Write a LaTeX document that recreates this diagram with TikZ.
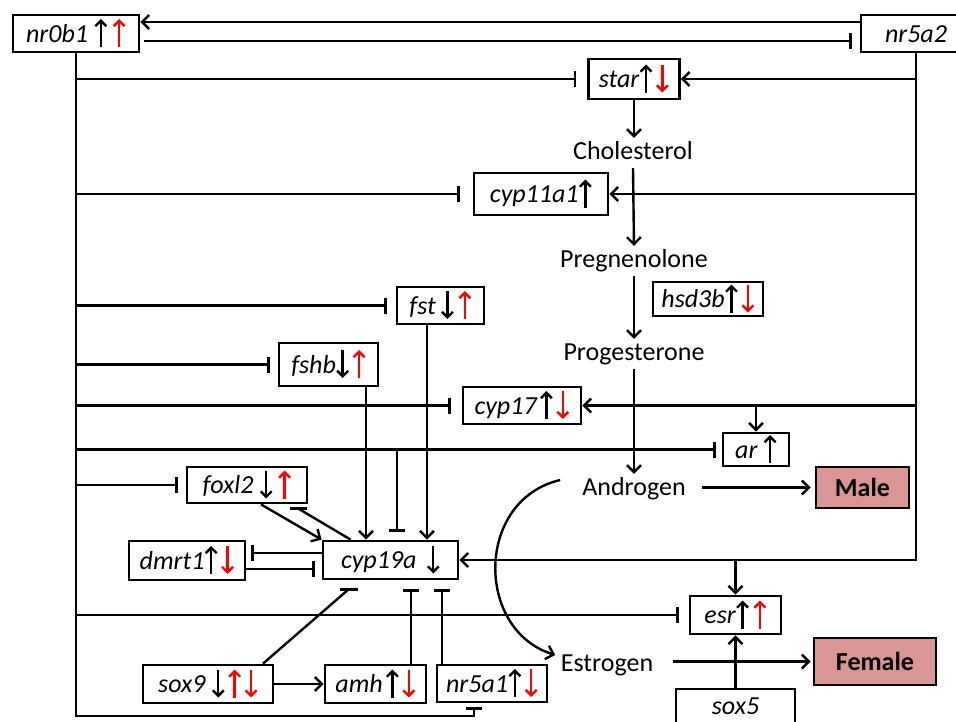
\documentclass[tikz,border=0pt]{standalone}
\usepackage{fontspec}
\setmainfont{Carlito}
\usetikzlibrary{arrows.meta,calc}
\definecolor{sexpink}{RGB}{217,150,148}
\newcommand\gfont{\fontsize{26}{30}\selectfont\itshape}
\newcommand\lfont{\fontsize{26}{30}\selectfont}
\newcommand\sfont{\fontsize{26}{30}\selectfont\bfseries}
\newcommand\UA[1][black]{\tikz[baseline=0pt,x=1pt,y=1pt]\draw[#1,line width=2.4pt,-{Straight Barb[length=5.5pt,width=11pt]}] (0,-5) -- (0,23);}
\newcommand\DA[1][black]{\tikz[baseline=0pt,x=1pt,y=1pt]\draw[#1,line width=2.4pt,-{Straight Barb[length=5.5pt,width=11pt]}] (0,23) -- (0,-5);}
\begin{document}
\begin{tikzpicture}[x=1pt,y=-1pt,
 gene/.style={draw,line width=2.8pt,fill=white,inner sep=0pt,font=\gfont,text height=21pt,text depth=4pt},
 lbl/.style={font=\lfont,inner sep=3pt,text height=18pt,text depth=6pt},
 sexbox/.style={draw,line width=2.8pt,fill=sexpink,inner sep=0pt,font=\sfont,text height=21pt,text depth=4pt},
 link/.style={line width=2.4pt},
 act/.style={link,-{Straight Barb[length=7pt,width=14pt]}},
 inh/.style={link,-{Bar[width=16pt]}}]
\useasboundingbox (0,0) rectangle (956,721);

% nodes
\node[gene,minimum width=126pt,minimum height=37pt] (nr0b1) at (76,33.5) {nr0b1\hspace{6pt}\UA\hspace{5pt}\UA[red]};
\node[gene,minimum width=110pt,minimum height=37pt] (nr5a2) at (916,33.5) {nr5a2};
\node[gene,minimum width=91pt,minimum height=40pt] (star) at (634,79) {star\UA\hspace{3pt}\DA[red]};
\node[lbl] (chol) at (633,153) {Cholesterol};
\node[gene,minimum width=134pt,minimum height=42pt] (cyp11a1) at (541,194) {cyp11a1\UA};
\node[lbl] (preg) at (634,261) {Pregnenolone};
\node[gene,minimum width=110pt,minimum height=34pt] (hsd3b) at (708,299) {hsd3b\UA\hspace{3pt}\DA[red]};
\node[gene,minimum width=87pt,minimum height=37pt] (fst) at (440.5,305.5) {fst\hspace{5pt}\DA\hspace{4pt}\UA[red]};
\node[lbl] (prog) at (634,354) {Progesterone};
\node[gene,minimum width=99pt,minimum height=43pt] (fshb) at (328.5,364.5) {fshb\DA\hspace{3pt}\UA[red]};
\node[gene,minimum width=118pt,minimum height=37pt] (cyp17) at (522,405.5) {cyp17\hspace{3pt}\UA\hspace{3pt}\DA[red]};
\node[gene,minimum width=66pt,minimum height=33pt] (ar) at (756,449.5) {ar\hspace{6pt}\UA};
\node[lbl] (andro) at (634,489) {Androgen};
\node[sexbox,minimum width=93pt,minimum height=41pt] (male) at (862.5,487.5) {Male};
\node[gene,minimum width=120pt,minimum height=36pt] (foxl2) at (247,485) {foxl2\hspace{6pt}\DA\hspace{5pt}\UA[red]};
\node[gene,minimum width=116pt,minimum height=39pt] (dmrt1) at (187,560.5) {dmrt1\UA\hspace{3pt}\DA[red]};
\node[gene,minimum width=135pt,minimum height=38pt] (cyp19a) at (390.5,560) {cyp19a\hspace{10pt}\DA};
\node[gene,minimum width=91pt,minimum height=38pt] (esr) at (735.5,615) {esr\UA\hspace{4pt}\UA[red]};
\node[lbl] (estro) at (607,665) {Estrogen};
\node[sexbox,minimum width=122pt,minimum height=47pt] (female) at (875,661.5) {Female};
\node[gene,minimum width=130pt,minimum height=38pt] (sox9) at (208,684) {sox9\hspace{6pt}\DA\hspace{3pt}\UA[red]\hspace{3pt}\DA[red]};
\node[gene,minimum width=101pt,minimum height=38pt] (amh) at (375.5,684) {amh\hspace{3pt}\UA\hspace{3pt}\DA[red]};
\node[gene,minimum width=110pt,minimum height=37pt] (nr5a1) at (492,683.5) {nr5a1\UA\hspace{3pt}\DA[red]};
\node[gene,minimum width=119pt,minimum height=34pt] (sox5) at (735.5,706) {sox5};

% top links
\draw[act] ([yshift=11.5pt]nr5a2.west) -- ([yshift=11.5pt]nr0b1.east);
\draw[inh,shorten <=4pt,shorten >=8pt] ([yshift=-7.5pt]nr0b1.east) -- ([yshift=-7.5pt]nr5a2.west);

% left trunk (nr0b1)
\coordinate (n51b) at ($(nr5a1.south)+(-18,0)$);
\coordinate (LB) at (76,716);
\draw[inh,shorten >=4pt] (nr0b1.south) -- (LB) -| (n51b);
\draw[inh,shorten >=11pt] (nr0b1.south |- star.west) -- (star.west);
\draw[inh,shorten >=13pt] (nr0b1.south |- cyp11a1.west) -- (cyp11a1.west);
\draw[inh,shorten >=9pt] (nr0b1.south |- fst.west) -- (fst.west);
\draw[inh,shorten >=8pt] (nr0b1.south |- fshb.west) -- (fshb.west);
\draw[inh,shorten >=11pt] (nr0b1.south |- cyp17.west) -- (cyp17.west);
\draw[inh,shorten >=6pt] (nr0b1.south |- ar.west) -- (ar.west);
\draw[inh,shorten >=8pt] (nr0b1.south |- foxl2.west) -- (foxl2.west);
\draw[inh,shorten >=10pt] (nr0b1.south |- esr.west) -- (esr.west);
\coordinate (c19t) at ($(cyp19a.north)+(6.5,0)$);
\draw[inh,shorten >=8pt] (c19t |- ar.west) -- (c19t);

% right trunk (nr5a2)
\draw[act] (nr5a2.south) -- (nr5a2.south |- cyp19a.east) -- (cyp19a.east);
\draw[act] (nr5a2.south |- star.east) -- (star.east);
\draw[act] (nr5a2.south |- cyp11a1.east) -- (cyp11a1.east);
\draw[act] (nr5a2.south |- cyp17.east) -- (cyp17.east);
\draw[act] (ar.north |- cyp17.east) -- (ar.north);
\draw[act] (esr.north |- cyp19a.east) -- (esr.north);

% steroid pathway
\draw[act] (star.south) -- (star.south |- chol.north);
\draw[act] (chol.south) -- (preg.north);
\draw[act] (preg.south) -- (prog.north);
\draw[act] (prog.south) -- (andro.north);
\draw[act,shorten <=13pt,shorten >=4pt] (male.west -| andro.east) -- (male.west);
\draw[act,shorten <=17pt,shorten >=2pt] (female.west -| estro.east) -- (female.west);
\coordinate (cv1) at ($(andro.west)+(-19,-9)$);
\coordinate (cv2) at ($(estro.west)+(-2.5,-10)$);
\draw[act] (cv1) .. controls (475,500) and (475,630) .. (cv2);

% foxl2 / dmrt1 / cyp19a
\draw[act] ($(foxl2.south)+(14,0)$) -- (cyp19a.north west);
\coordinate (fb) at ($(foxl2.south)+(51,4)$);
\draw[link] ($(cyp19a.north west)+(29,0)$) -- (fb);
\draw[link] ([xshift=-8.5pt]fb) -- ([xshift=8.5pt]fb);
\coordinate (d1) at ($(cyp19a.west)+(0,-7)$);
\draw[inh,shorten >=5pt] (d1) -- (d1 -| dmrt1.east);
\coordinate (d2) at ($(dmrt1.east)+(0,8.5)$);
\draw[inh,shorten >=7pt] (d2) -- (d2 -| cyp19a.west);
\coordinate (fshbout) at ($(fshb.south)+(37.5,0)$);
\draw[act] (fshbout) -- (fshbout |- cyp19a.north);
\coordinate (fstout) at ($(fst.south)+(-13.5,0)$);
\draw[act] (fstout) -- (fstout |- cyp19a.north);

% below cyp19a
\coordinate (sb) at ($(cyp19a.south)+(-42,9)$);
\draw[link] ($(sox9.north)+(55,0)$) -- (sb);
\draw[link] ([xshift=-9pt]sb) -- ([xshift=9pt]sb);
\coordinate (amht) at ($(amh.north)+(35.5,0)$);
\draw[inh,shorten >=9pt] (amht) -- (amht |- cyp19a.south);
\coordinate (n51t) at ($(nr5a1.north)+(-50,0)$);
\draw[inh,shorten >=9pt] (n51t) -- (n51t |- cyp19a.south);
\draw[act] (sox9.east) -- (amh.west);
\draw[act] (sox5.north) -- (esr.south);
\end{tikzpicture}
\end{document}
